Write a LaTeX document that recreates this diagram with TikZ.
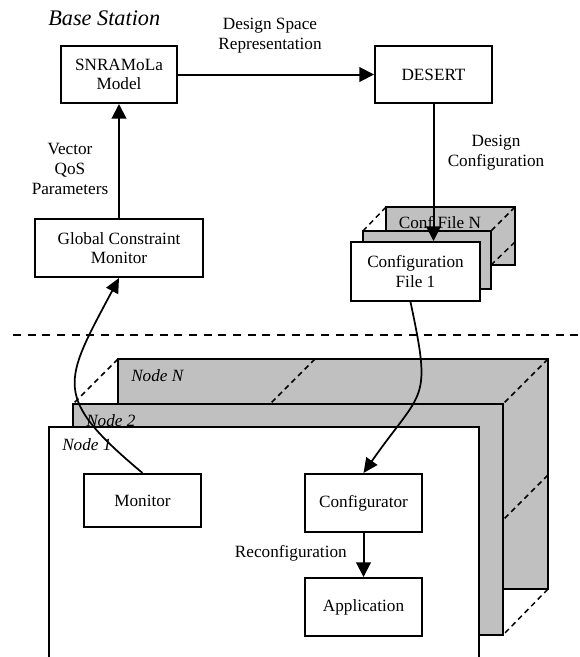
\documentclass[tikz,border=0pt]{standalone}
\usepackage{fontspec}
\setmainfont{Liberation Serif}
\usetikzlibrary{arrows.meta,calc}
\definecolor{boxgray}{RGB}{192,192,192}
\begin{document}
\begin{tikzpicture}[x=0.75pt,y=-0.75pt,
  box/.style={draw,line width=1.5pt,fill=white,inner sep=0pt,align=center,font=\fontsize{12.9}{14.8}\selectfont},
  graybox/.style={box,fill=boxgray},
  conn/.style={line width=1.5pt,-{Triangle[length=11pt,width=11pt]}},
  curv/.style={line width=1.3pt,-{Triangle[length=11pt,width=10pt]}},
  lbl/.style={inner sep=0pt,align=center,font=\fontsize{12.9}{14.8}\selectfont},
  ilbl/.style={inner sep=0pt,font=\fontsize{12.9}{14.8}\selectfont\itshape},
  sdash/.style={line width=1.1pt,dash pattern=on 4pt off 3pt},
  frame/.style={line width=1.5pt},
  ]
\useasboundingbox (0,0) rectangle (579,657);
% node stack
\filldraw[frame,fill=boxgray] (118,359) rectangle (548,589);
\draw[sdash] (118,359) -- (73,404);
\draw[sdash] (315,359) -- (270,404);
\draw[sdash] (548,359) -- (503,404);
\draw[sdash] (548,475) -- (503,520);
\draw[sdash] (548,589) -- (503,635);
\filldraw[frame,fill=boxgray] (73,404) rectangle (503,635);
\fill[white] (49,427) rectangle (479,665);
\draw[frame] (49,665) -- (49,427) -- (479,427) -- (479,665);
\node[ilbl,anchor=west] (lN) at (131,376) {Node N};
\node[ilbl,anchor=west] (l2) at (86,421) {Node 2};
\node[ilbl,anchor=west] (l1) at (62,445) {Node 1};
% separator
\draw[line width=1.2pt,dash pattern=on 6pt off 5pt] (13,335) -- (579,335);
% base station
\node[inner sep=0pt,anchor=west,font=\fontsize{16.7}{20}\selectfont\itshape] (bs) at (48,18) {Base Station};
\node[box,minimum width=87pt,minimum height=42.75pt] (snr) at (119,74.5) {SNRAMoLa\\Model};
\node[box,minimum width=87.75pt,minimum height=42.75pt] (desert) at (433.5,74.5) {DESERT};
\node[box,minimum width=126pt,minimum height=43.5pt] (gcm) at (119,248) {Global Constraint\\Monitor};
% config files
\node[graybox,minimum width=96.75pt,minimum height=43.5pt] (cfN) at (450.5,236) {};
\node[lbl] (cfNt) at (440,223) {Conf File N};
\draw[sdash] (386,207) -- (363,231);
\draw[sdash] (515,207) -- (491,231);
\draw[sdash] (515,242) -- (491,265);
\node[graybox,minimum width=96pt,minimum height=43.5pt] (cfM) at (427,260) {};
\node[box,minimum width=96.75pt,minimum height=44.25pt] (cf1) at (415.5,271.5) {Configuration\\File 1};
% node internals
\node[box,minimum width=87.75pt,minimum height=39.75pt] (monitor) at (142.5,500.5) {Monitor};
\node[box,minimum width=87.75pt,minimum height=43.5pt] (configurator) at (363.5,503) {Configurator};
\node[box,minimum width=87.75pt,minimum height=43.5pt] (application) at (363.5,607) {Application};
% connectors
\draw[conn] (snr.east) -- (desert.west);
\node[lbl] (dsr) at (270,35.5) {Design Space\\Representation};
\draw[conn] (desert.south) -- (desert.south |- cf1.north);
\node[lbl] (dc) at (496,153) {Design\\Configuration};
\draw[conn] (gcm.north) -- (snr.south);
\node[lbl] (vq) at (70,169) {Vector\\QoS\\Parameters};
\draw[curv] (monitor.north) to[out=140,in=-118,looseness=1.55] (gcm.south);
\draw[curv] ($(cf1.south)+(-5,0)$) to[out=-78,in=55,looseness=1.5] (configurator.north);
\draw[conn] (configurator.south) -- (application.north);
\node[lbl,anchor=east] (rc) at (347,553) {Reconfiguration};
\end{tikzpicture}
\end{document}
